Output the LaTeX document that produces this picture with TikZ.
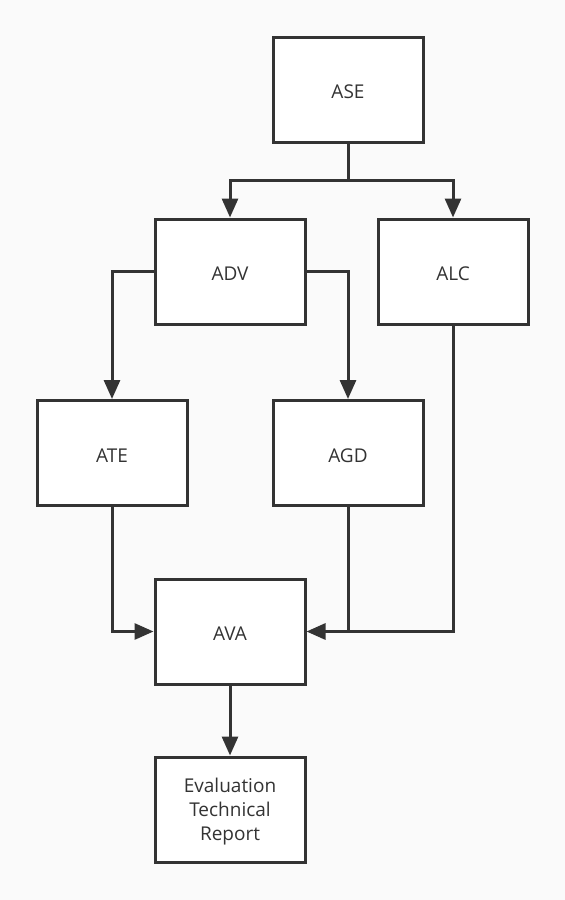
\documentclass[tikz,border=0pt]{standalone}
\usepackage{fontspec}
\setmainfont{Open Sans}
\usetikzlibrary{arrows.meta}
\definecolor{ink}{HTML}{333333}
\definecolor{bg}{HTML}{FAFAFA}
\tikzset{
  blk/.style={draw=ink, line width=3pt, fill=white, minimum width=150pt, minimum height=105pt, inner sep=0pt, text=ink, font=\fontsize{19}{24}\selectfont, align=center},
  lbl/.style={text=ink, font=\fontsize{19}{24}\selectfont, align=center, inner sep=0pt},
  conn/.style={draw=ink, line width=3pt},
  arr/.style={conn, -{Triangle[length=19pt,width=16pt]}}
}
\begin{document}
\begin{tikzpicture}[x=1pt,y=-1pt]
\fill[bg] (0,0) rectangle (565,900);
\useasboundingbox (0,0) rectangle (565,900);
\node[blk] (ase) at (348,89.5) {};
\node[blk] (adv) at (230,271.5) {};
\node[blk] (alc) at (453,271.5) {};
\node[blk] (ate) at (112,453) {};
\node[blk] (agd) at (348,453) {};
\node[blk] (ava) at (230,631.5) {};
\node[blk] (etr) at (230,809.5) {};
\node[lbl] (tase) at ([yshift=-2.5pt]ase.center) {ASE};
\node[lbl] (tadv) at ([yshift=-2.5pt]adv.center) {ADV};
\node[lbl] (talc) at ([yshift=-2.5pt]alc.center) {ALC};
\node[lbl] (tate) at ([yshift=-2.5pt]ate.center) {ATE};
\node[lbl] (tagd) at ([yshift=-2.5pt]agd.center) {AGD};
\node[lbl] (tava) at ([yshift=-2.5pt]ava.center) {AVA};
\node[lbl] (tetr) at ([yshift=-2.5pt]etr.center) {Evaluation\\Technical\\Report};
\coordinate (split) at (348,180);
\coordinate (join) at (348,631.5);
\draw[conn] (ase.south) -- (split);
\draw[arr] (split) -| (adv.north);
\draw[arr] (split) -| (alc.north);
\draw[arr] (adv.west) -| (ate.north);
\draw[arr] (adv.east) -| (agd.north);
\draw[arr] (ate.south) |- (ava.west);
\draw[conn] (agd.south) -- (join);
\draw[arr] (alc.south) |- (ava.east);
\draw[arr] (ava.south) -- (etr.north);
\end{tikzpicture}
\end{document}
